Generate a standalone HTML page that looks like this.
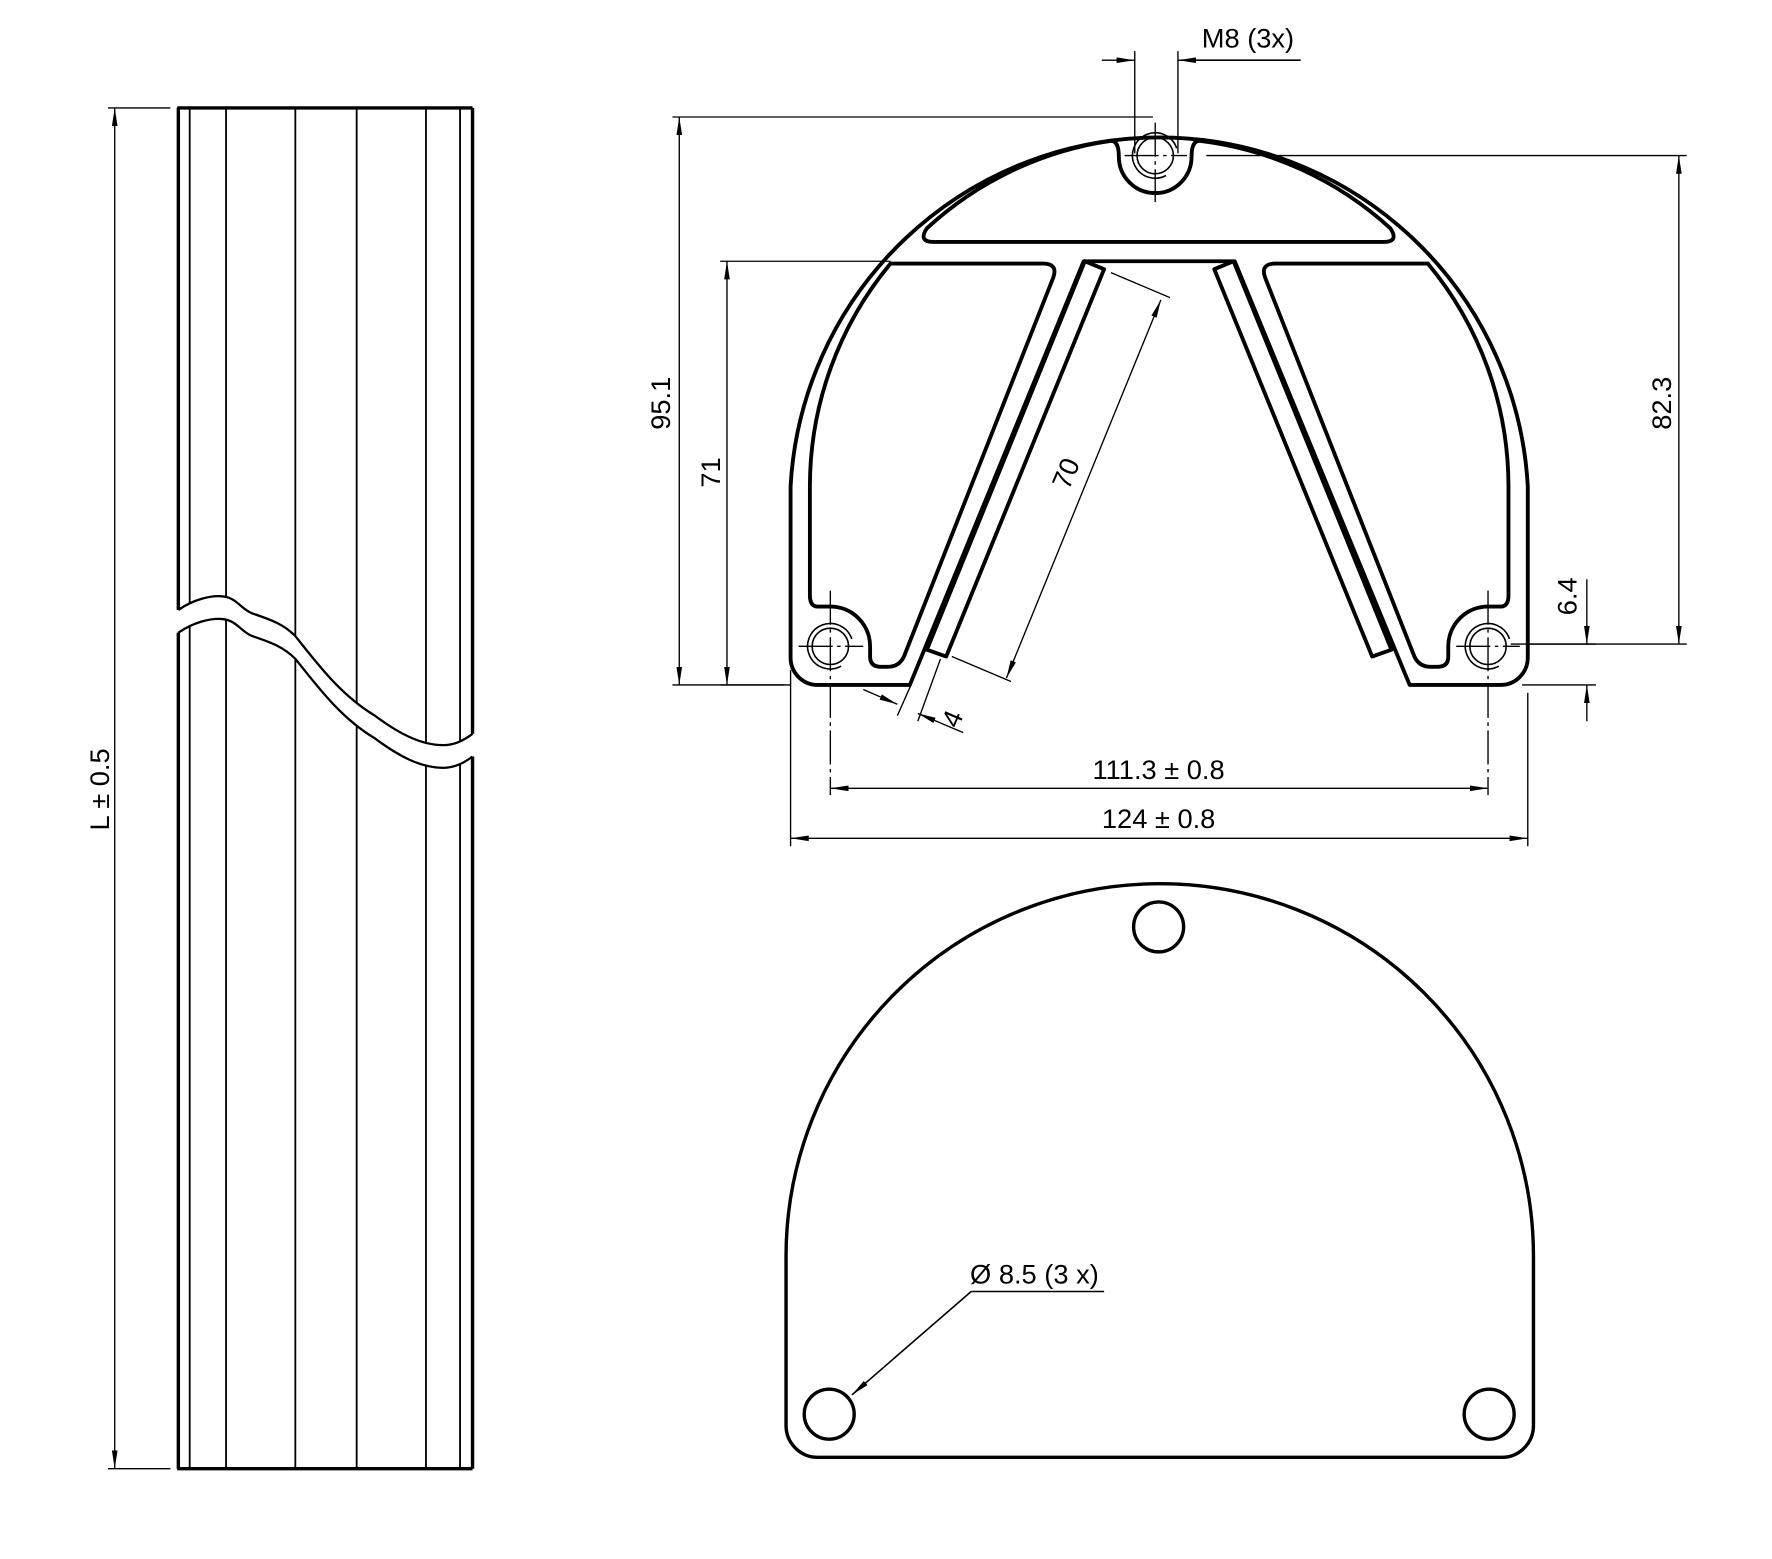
<!DOCTYPE html>
<html><head><meta charset="utf-8"><style>html,body{margin:0;padding:0;background:#fff}svg{display:block}</style></head>
<body>
<svg width="1772" height="1559" viewBox="0 0 1560 1372.5" preserveAspectRatio="none" xmlns="http://www.w3.org/2000/svg" font-family="Liberation Sans, sans-serif" font-size="24">
<defs>
<marker id="a" viewBox="0 0 16 6" refX="16" refY="3" markerWidth="16" markerHeight="6" markerUnits="userSpaceOnUse" orient="auto-start-reverse"><path d="M0,0.5 L16,3 L0,5.5 Z" fill="#000"/></marker>
</defs>
<g fill="none" stroke="#000">
<!-- Pillar -->
<g stroke-width="1.6">
<line x1="167" y1="95" x2="167" y2="1293"/><line x1="199" y1="95" x2="199" y2="1293"/>
<line x1="260" y1="95" x2="260" y2="1293"/><line x1="314" y1="95" x2="314" y2="1293"/>
<line x1="375" y1="95" x2="375" y2="1293"/><line x1="405" y1="95" x2="405" y2="1293"/>
</g>
<path d="M157,537 C170,528 185,524 196,525 C208,526 212,536 222,540 C240,546 250,550 260,560 C280,585 300,612 330,630 C350,645 370,656 390,656 C400,656 408,652 416,646 L416,666 C408,672 400,676 390,676 C370,676 350,665 330,650 C300,632 280,605 260,580 C250,570 240,566 222,560 C212,556 208,546 196,545 C185,544 170,548 157,557 Z" fill="#fff" stroke="none"/>
<g stroke-width="2">
<path d="M157,537 C170,528 185,524 196,525 C208,526 212,536 222,540 C240,546 250,550 260,560 C280,585 300,612 330,630 C350,645 370,656 390,656 C400,656 408,652 416,646"/>
<path d="M157,557 C170,548 185,544 196,545 C208,546 212,556 222,560 C240,566 250,570 260,580 C280,605 300,632 330,650 C350,665 370,676 390,676 C400,676 408,672 416,666"/>
</g>
<g stroke-width="3">
<line x1="156" y1="95" x2="416" y2="95"/><line x1="156" y1="1293" x2="416" y2="1293"/>
<line x1="157" y1="95" x2="157" y2="537"/><line x1="157" y1="557" x2="157" y2="1293"/>
<line x1="416" y1="95" x2="416" y2="646"/><line x1="416" y1="666" x2="416" y2="1293"/>
</g>
<g stroke-width="1.2">
<line x1="95" y1="95" x2="150" y2="95"/><line x1="95" y1="1293" x2="150" y2="1293"/>
<line x1="101" y1="95" x2="101" y2="1293" marker-start="url(#a)" marker-end="url(#a)"/>
</g>
<!-- Top profile -->
<g stroke-width="3.4" stroke-linejoin="round">
<path d="M718,603 L801,603 L954,230 L1087,230 L1241,603 L1321,603 A24,24 0 0 0 1345,579 L1345,428 A325,325 0 0 0 696,428 L696,579 A24,24 0 0 0 718,603 Z"/>
<path d="M822,213 L1218,213 Q1232,213 1224,201 A303,303 0 0 0 1056,124 Q1049,124 1049,138 A32,32 0 0 1 985,138 Q985,124 978,124 A303,303 0 0 0 816,201 Q808,213 822,213 Z"/>
<g id="half">
<path d="M784,232 L918,232 Q932,232 927,245 L797,575 Q793,587 782,587 L775,587 Q766,587 766,578 L766,569 A35,35 0 0 0 731,534 L720,534 Q713,534 713,524 L713,428 A307,307 0 0 1 784,232 Z"/>
<path d="M955,230 L972,237 L833,578 L816,572 Z"/>
</g>
<use href="#half" transform="translate(2041,0) scale(-1,1)"/>
</g>
<g stroke-width="1.4">
<circle cx="1017" cy="137" r="16"/><path d="M1035.9,130.5 A20,20 0 1 0 1026.5,154.5"/>
<circle cx="731" cy="569" r="16"/><path d="M749.9,562.5 A20,20 0 1 0 740.5,586.5"/>
<circle cx="1310" cy="569" r="16"/><path d="M1328.9,562.5 A20,20 0 1 0 1319.5,586.5"/>
</g>
<g stroke-width="1.2" stroke-dasharray="30,4,3,4">
<line x1="990" y1="137" x2="1045" y2="137"/><line x1="1017" y1="108" x2="1017" y2="178"/>
<line x1="703" y1="569" x2="760" y2="569"/><line x1="731" y1="520" x2="731" y2="700"/>
<line x1="1282" y1="569" x2="1338" y2="569"/><line x1="1310" y1="520" x2="1310" y2="700"/>
</g>
<!-- Dimensions -->
<g stroke-width="1.2">
<line x1="999" y1="45" x2="999" y2="135"/><line x1="1037" y1="45" x2="1037" y2="135"/>
<line x1="970" y1="53" x2="999" y2="53" marker-end="url(#a)"/>
<line x1="1145" y1="53" x2="1037" y2="53" marker-end="url(#a)"/>
<line x1="592" y1="103" x2="1015" y2="103"/><line x1="592" y1="603" x2="696" y2="603"/>
<line x1="598" y1="103" x2="598" y2="603" marker-start="url(#a)" marker-end="url(#a)"/>
<line x1="634" y1="230" x2="784" y2="230"/><line x1="634" y1="603" x2="690" y2="603"/>
<line x1="640" y1="230" x2="640" y2="603" marker-start="url(#a)" marker-end="url(#a)"/>
<line x1="1062" y1="137" x2="1485" y2="137"/><line x1="1330" y1="567" x2="1485" y2="567"/>
<line x1="1478" y1="137" x2="1478" y2="567" marker-start="url(#a)" marker-end="url(#a)"/>
<line x1="1345" y1="567" x2="1405" y2="567"/><line x1="1340" y1="603" x2="1405" y2="603"/>
<line x1="1397" y1="510" x2="1397" y2="567" marker-end="url(#a)"/>
<line x1="1397" y1="635" x2="1397" y2="603" marker-end="url(#a)"/>
<line x1="978" y1="240" x2="1030" y2="262"/><line x1="838" y1="578" x2="890" y2="600"/>
<line x1="1022" y1="264" x2="886" y2="597" marker-start="url(#a)" marker-end="url(#a)"/>
<line x1="802" y1="603" x2="790" y2="630"/><line x1="828" y1="580" x2="808" y2="635"/>
<line x1="760" y1="607" x2="790" y2="620" marker-end="url(#a)"/>
<line x1="848" y1="645" x2="808" y2="628" marker-end="url(#a)"/>
<line x1="696" y1="590" x2="696" y2="745"/><line x1="1345" y1="610" x2="1345" y2="745"/>
<line x1="731" y1="694" x2="1310" y2="694" marker-start="url(#a)" marker-end="url(#a)"/>
<line x1="696" y1="738" x2="1345" y2="738" marker-start="url(#a)" marker-end="url(#a)"/>
</g>
<!-- Bottom plate -->
<g stroke-width="3">
<path d="M720,1283 L1322,1283 A28,28 0 0 0 1350,1255 L1350,1106 A329,328 0 0 0 692,1106 L692,1255 A28,28 0 0 0 720,1283 Z"/>
<circle cx="1020" cy="816" r="22"/><circle cx="730" cy="1245" r="22"/><circle cx="1311" cy="1245" r="22"/>
</g>
<g stroke-width="1.4">
<line x1="855" y1="1137" x2="750" y2="1228" marker-end="url(#a)"/>
<line x1="855" y1="1137" x2="972" y2="1137"/>
<line x1="1040" y1="53" x2="1145" y2="53"/>
</g>
</g>
<g fill="#000" stroke="none">
<text x="1058" y="42">M8 (3x)</text>
<text transform="translate(590,355) rotate(-90)" text-anchor="middle">95.1</text>
<text transform="translate(634,416) rotate(-90)" text-anchor="middle">71</text>
<text transform="translate(1471,355) rotate(-90)" text-anchor="middle">82.3</text>
<text transform="translate(1388,525) rotate(-90)" text-anchor="middle">6.4</text>
<text transform="translate(946,420) rotate(-67)" text-anchor="middle">70</text>
<text transform="translate(846,636) rotate(-67)" text-anchor="middle">4</text>
<text x="1020" y="686" text-anchor="middle">111.3 ± 0.8</text>
<text x="1020" y="729" text-anchor="middle">124 ± 0.8</text>
<text transform="translate(96,695) rotate(-90)" text-anchor="middle">L ± 0.5</text>
<text x="854" y="1130">Ø 8.5 (3 x)</text>
</g>
</svg>
</body></html>
